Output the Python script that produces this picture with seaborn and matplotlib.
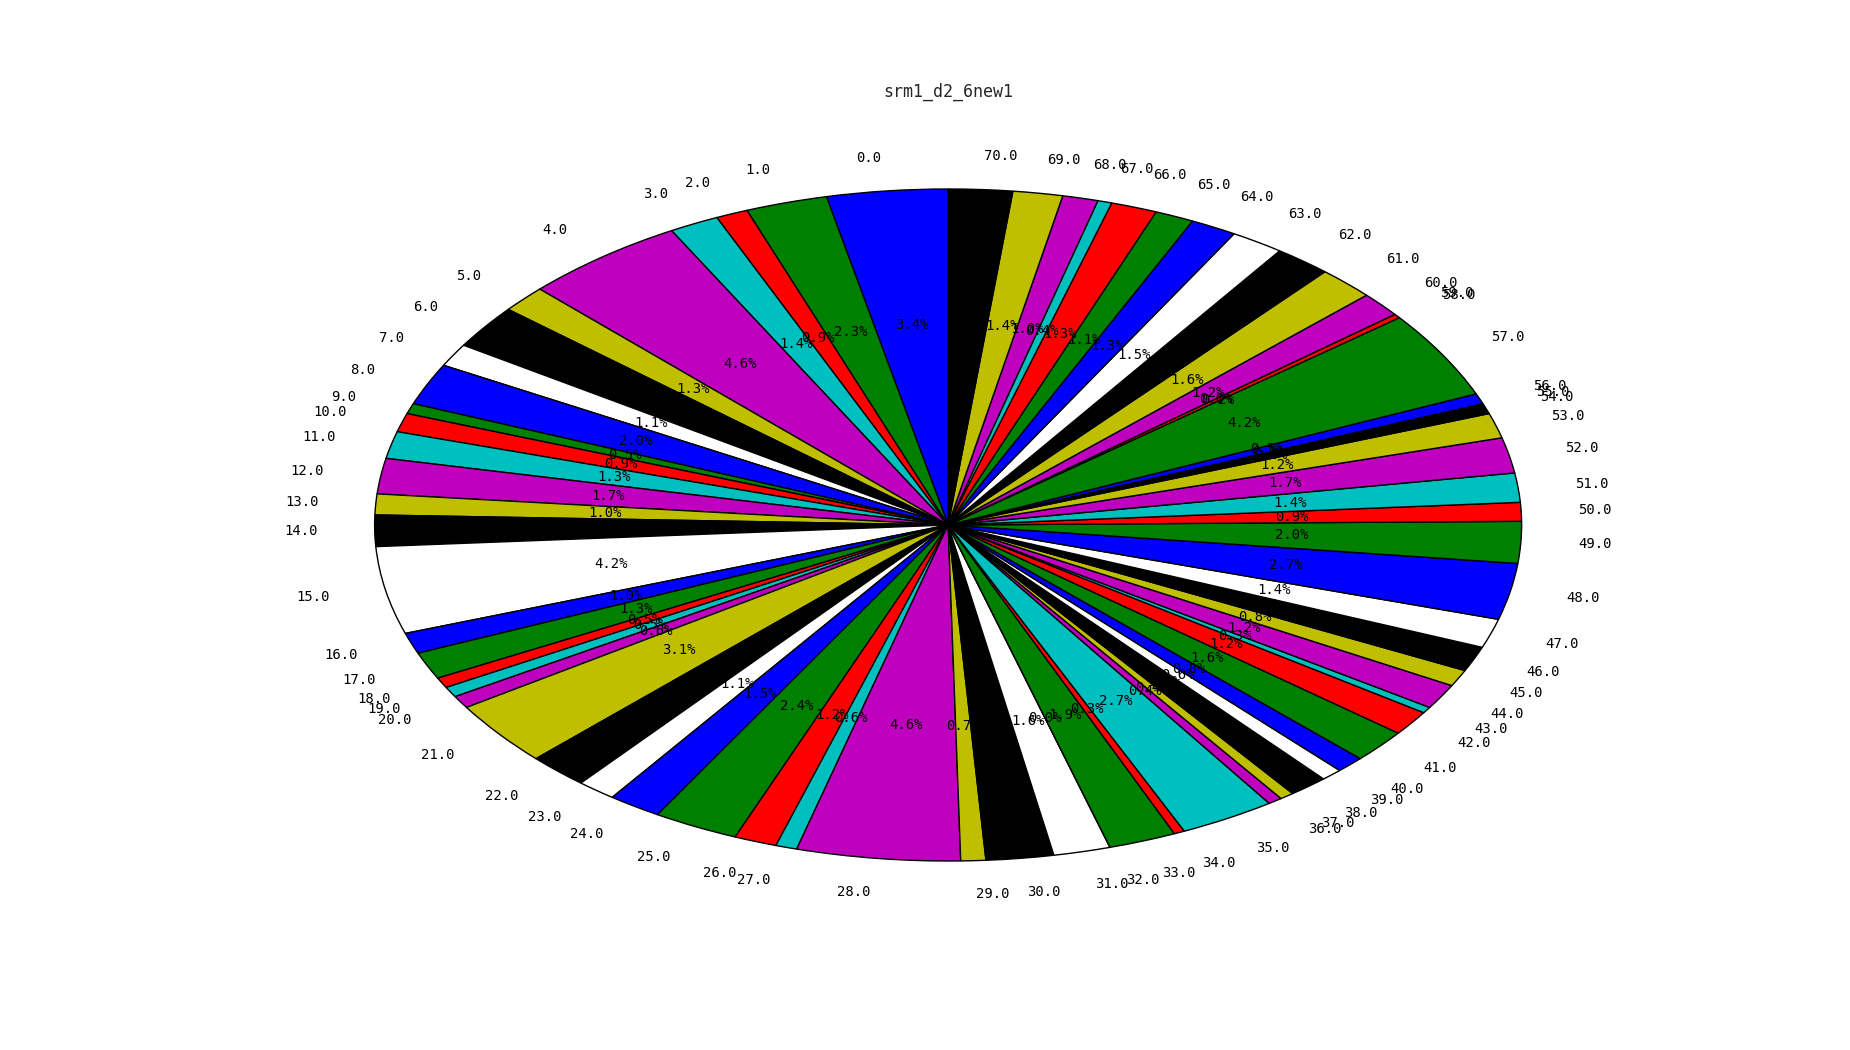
import matplotlib
matplotlib.use("Agg")
import matplotlib.pyplot as plt
import seaborn as sns
import numpy as np

sns.set_style("white")
plt.rcParams['font.family'] = ['DejaVu Sans Mono', 'DejaVu Sans']

title = "srm1_d2_6new1"
categories = [f"{i:.1f}" for i in range(71)]
values = [
    3.4, 2.3, 0.9, 1.4, 4.6, 1.3, 2.1, 1.1,   # 0-7
    2.0, 0.5, 0.9, 1.3, 1.7, 1.0, 1.5, 4.2,   # 8-15
    1.0, 1.3, 0.5, 0.5, 0.6, 3.1, 1.7, 1.1,   # 16-23
    1.5, 2.4, 1.2, 0.6, 4.6, 0.7, 1.9, 1.6,   # 24-31
    0.0, 1.9, 0.3, 2.7, 0.4, 0.4, 1.1, 0.6,   # 32-39
    0.8, 1.6, 1.2, 0.3, 1.2, 0.8, 1.2, 1.4,   # 40-47
    2.7, 2.0, 0.9, 1.4, 1.7, 1.2, 0.5, 0.0,   # 48-55
    0.5, 4.2, 0.2, 0.0, 1.2, 1.6, 1.6, 1.5,   # 56-63
    1.3, 1.1, 1.3, 0.4, 1.0, 1.4, 1.8,        # 64-70
]
palette = ['b', 'g', 'r', 'c', 'm', 'y', 'k', 'w']
colors = [palette[i % len(palette)] for i in range(len(values))]

fig = plt.figure(figsize=(18.5, 10.5), dpi=100)
ax = fig.add_axes([0.125, 0.1, 0.775, 0.8])
ax.pie(values, labels=categories, colors=colors, autopct='%1.1f%%',
       startangle=90, counterclock=True, pctdistance=0.6, labeldistance=1.1,
       wedgeprops=dict(edgecolor='black', linewidth=1),
       textprops=dict(fontsize=10, color='black'))
ax.set_aspect('auto')
ax.set_xlim(-1.25, 1.25)
ax.set_ylim(-1.25, 1.25)
ax.set_title(title, fontsize=12)
fig.savefig("out.png", dpi=100)
